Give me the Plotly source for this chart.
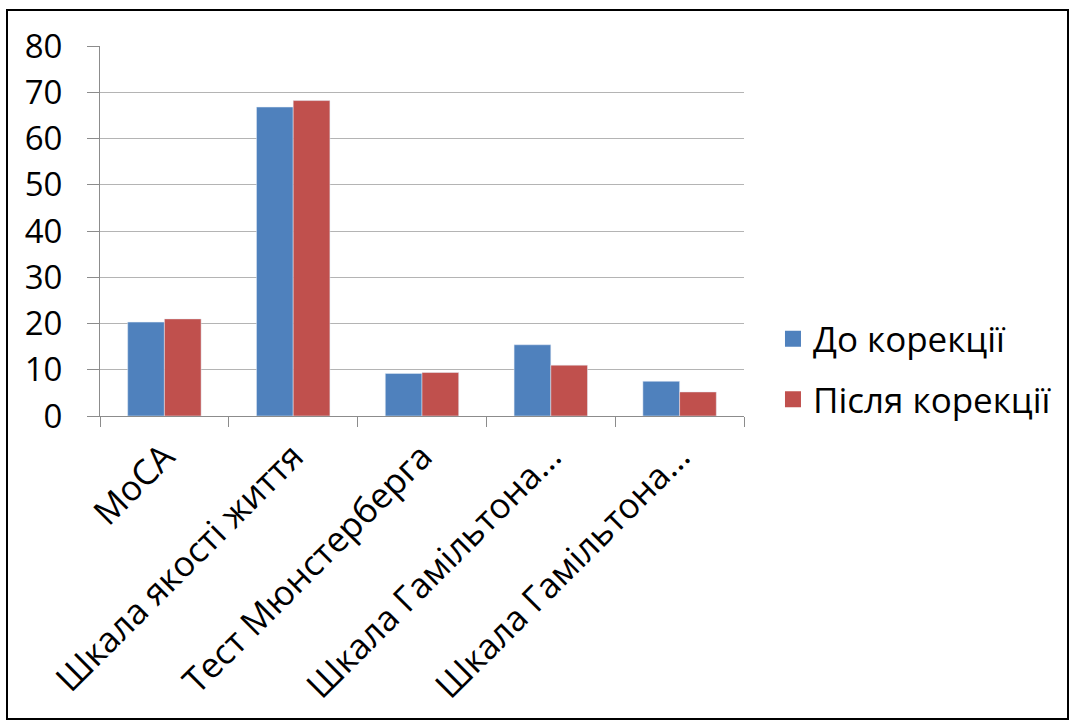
import plotly.graph_objects as go

# Scale names and mean scores before / after correction
categories = ["МоСА", "Шкала якості життя", "Тест Мюнстерберга",
              "Шкала Гамільтона...", "Шкала Гамільтона..."]
before = [20.3, 66.8, 9.2, 15.4, 7.5]
after = [21.0, 68.2, 9.4, 11.0, 5.2]
series_names = ["До корекції", "Після корекції"]
colors = ["#4F81BD", "#C0504D"]
y_ticks = [0, 10, 20, 30, 40, 50, 60, 70, 80]

FONT = "Open Sans"
positions = list(range(len(categories)))

fig = go.Figure()
for vals, name, col in zip([before, after], series_names, colors):
    fig.add_trace(go.Bar(x=positions, y=vals, name=name, showlegend=False,
                         marker=dict(color=col)))
# Square legend keys
for i, (name, col) in enumerate(zip(series_names, colors)):
    fig.add_trace(go.Scatter(x=[None], y=[None], mode="markers", name=name,
                             legendgroup=f"g{i}",
                             marker=dict(symbol="square", size=17, color=col)))

fig.update_layout(
    width=1073, height=720,
    margin=dict(l=100, r=329, t=46, b=304),
    paper_bgcolor="white", plot_bgcolor="white",
    barmode="group", bargap=0.43, bargroupgap=0,
    font=dict(family=FONT, size=33, color="black"),
    legend=dict(x=1.045, y=0.127, yanchor="middle", xanchor="left",
                font=dict(family=FONT, size=35, color="black"),
                itemsizing="trace", tracegroupgap=12, itemwidth=30),
    showlegend=True,
)

fig.update_xaxes(
    range=[-0.5, len(categories) - 0.5],
    tickmode="array", tickvals=positions, ticktext=categories,
    tickangle=-45, ticks="", showgrid=False,
    showline=True, linecolor="#8c8c8c", linewidth=1,
    tickfont=dict(family=FONT, size=35, color="black"),
    ticklabelstandoff=5,
    minor=dict(tickmode="array",
               tickvals=[p - 0.5 for p in positions] + [len(categories) - 0.5],
               ticks="outside", ticklen=10, tickcolor="#8c8c8c", showgrid=False),
    zeroline=False,
)
fig.update_yaxes(
    range=[0, 80], tickmode="array", tickvals=y_ticks,
    showgrid=True, gridcolor="#b4b4b4", gridwidth=1,
    showline=True, linecolor="#8c8c8c", linewidth=1,
    ticks="outside", ticklen=12, tickcolor="#8c8c8c",
    tickfont=dict(family=FONT, size=33, color="black"),
    ticklabelstandoff=18, zeroline=False,
)

# Outer frame around the whole chart
fig.add_shape(type="rect", xref="paper", yref="paper",
              x0=(7 - 100) / 644, x1=(1068 - 100) / 644,
              y0=(416 - 719) / 370, y1=(416 - 10) / 370,
              line=dict(color="black", width=2), fillcolor="rgba(0,0,0,0)",
              layer="below")

fig.write_html("out.html")
